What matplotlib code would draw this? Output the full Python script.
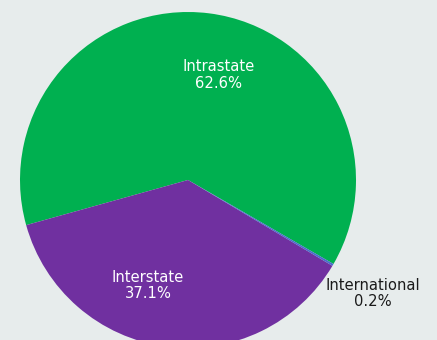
import matplotlib
matplotlib.use('Agg')
from matplotlib import pyplot as plt

labels = ['Intrastate', 'Interstate', 'International']
shares = [62.6, 37.1, 0.2]
colors = ['#00b050', '#7030a0', '#4a6ccb']

bg = '#e7ecec'
fig = plt.figure(figsize=(4.37, 3.4), dpi=100, facecolor=bg)
ax = fig.add_axes([0, 0, 1, 1])
ax.set_facecolor(bg)

# pie centre sits at pixel (188, 180) with radius 168
ax.pie(shares, colors=colors, startangle=330, counterclock=True,
       radius=1.0, center=(0, 0), wedgeprops={'linewidth': 0})

ax.set_xlim(-188 / 168, 249 / 168)
ax.set_ylim(-160 / 168, 180 / 168)
ax.set_aspect('auto')
ax.axis('off')

# label positions (data coords)
label_pos = [(0.18, 0.625), (-0.238, -0.63), (1.10, -0.675)]
label_colors = ['white', 'white', '#1a1a1a']
for name, val, (lx, ly), c in zip(labels, shares, label_pos, label_colors):
    ax.text(lx, ly, f'{name}\n{val:.1f}%', ha='center', va='center',
            fontsize=10.6, color=c, linespacing=1.1)

plt.savefig('out.png', dpi=100, facecolor=bg)
